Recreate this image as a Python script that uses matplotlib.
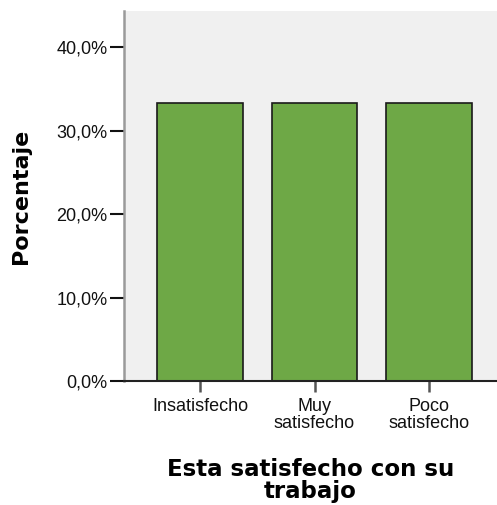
import matplotlib.pyplot as plt
from matplotlib.ticker import FuncFormatter

categorias = ['Insatisfecho', 'Muy\nsatisfecho', 'Poco\nsatisfecho']
porcentajes = [33.33, 33.33, 33.33]
ticks_y = [0, 10, 20, 30, 40]

fig = plt.figure(figsize=(4.97, 5.05), dpi=100)
ax = fig.add_axes([0.2495, 0.2455, 0.7505, 0.7325])
ax.set_facecolor('#F0F0F0')

x = range(len(categorias))
ax.bar(x, porcentajes, width=0.75, color='#6EA846', edgecolor='#1a1a1a', linewidth=1.2, zorder=2)

ax.set_xlim(-0.664, 2.594)
ax.set_ylim(0, 44.3)
ax.set_yticks(ticks_y)
ax.yaxis.set_major_formatter(FuncFormatter(lambda v, p: f'{v:.1f}'.replace('.', ',') + '%'))
ax.set_xticks(list(x))
ax.set_xticklabels(categorias, linespacing=1.0)

for lab in ax.get_xticklabels() + ax.get_yticklabels():
    lab.set_family('Liberation Sans')
    lab.set_fontsize(13)
    lab.set_color('#111111')

ax.tick_params(axis='y', direction='out', length=10, width=1.5, color='#111111', pad=2)
ax.tick_params(axis='x', direction='out', length=8, width=1.8, color='#555555', pad=4)

for s in ['top', 'right']:
    ax.spines[s].set_visible(False)
ax.spines['left'].set_color('#9a9a9a')
ax.spines['left'].set_linewidth(1.8)
ax.spines['bottom'].set_color('#222222')
ax.spines['bottom'].set_linewidth(1.5)

ax.set_ylabel('Porcentaje', fontsize=16, fontweight='bold', family='DejaVu Sans', labelpad=18)
ax.set_xlabel('Esta satisfecho con su\ntrabajo', fontsize=16.5, fontweight='bold',
              family='DejaVu Sans', linespacing=0.95, labelpad=19)

fig.savefig('out.png', dpi=100)
